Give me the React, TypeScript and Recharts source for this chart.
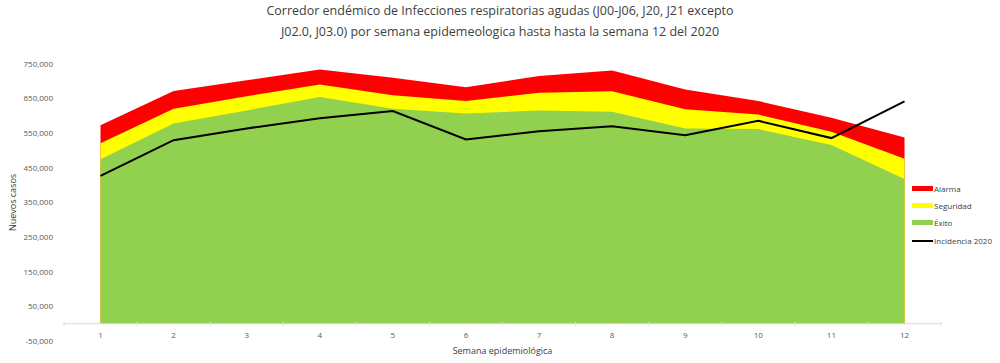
import {
  AreaChart,
  Area,
  Line,
  XAxis,
  YAxis,
  ReferenceLine,
} from "recharts"

const weeks = ["1", "2", "3", "4", "5", "6", "7", "8", "9", "10", "11", "12"]
// upper limit of each zone
const alarma = [573000, 672000, 703000, 734000, 710000, 683000, 715000, 731000, 676000, 643000, 595000, 538000]
const seguridad = [521000, 621000, 657000, 691000, 660000, 643000, 667000, 671000, 619000, 604000, 554000, 476000]
const exito = [475000, 578000, 616000, 655000, 621000, 607000, 616000, 612000, 564000, 562000, 516000, 418000]
const incidencia = [427000, 530000, 564000, 593000, 614000, 532000, 556000, 570000, 544000, 586000, 536000, 642000]
const yTicks = [-50000, 50000, 150000, 250000, 350000, 450000, 550000, 650000, 750000]

const data = weeks.map((week, i) => ({
  week,
  alarma: alarma[i],
  seguridad: seguridad[i],
  exito: exito[i],
  incidencia: incidencia[i],
}))

const legendItems = [
  { label: "Alarma", color: "#ff0000", h: 5 },
  { label: "Seguridad", color: "#ffff00", h: 5 },
  { label: "Éxito", color: "#92d050", h: 5 },
  { label: "Incidencia 2020", color: "#000000", h: 2 },
]

const FONT = "'Open Sans', sans-serif"
const HALF_STEP = 36.5

function WeekTick(props: any) {
  const { x, y, payload, index, visibleTicksCount } = props
  const zeroY = y - 17.3
  return (
    <g>
      <line x1={x - HALF_STEP} x2={x - HALF_STEP} y1={zeroY - 2} y2={zeroY + 2} stroke="#d9d9d9" />
      {index === visibleTicksCount - 1 && (
        <line x1={x + HALF_STEP} x2={x + HALF_STEP} y1={zeroY - 2} y2={zeroY + 2} stroke="#d9d9d9" />
      )}
      <text x={x} y={y - 5} textAnchor="middle" dominantBaseline="middle" fontSize={8} fontFamily={FONT} fill="#595959">
        {payload.value}
      </text>
    </g>
  )
}

function ChartLegend() {
  return (
    <div style={{ position: "absolute", left: 912, top: 180, fontFamily: FONT, fontSize: 8, color: "#404040" }}>
      {legendItems.map((item, i) => (
        <div key={item.label} style={{ display: "flex", alignItems: "center", height: i === 3 ? 19 : 17 }}>
          <span style={{ width: 21, height: item.h, background: item.color, marginRight: 1 }} />
          <span>{item.label}</span>
        </div>
      ))}
    </div>
  )
}

export default function App() {
  return (
    <div style={{ position: "absolute", left: 0, top: 0, width: 1000, height: 363, background: "#fff" }}>
      <div
        style={{
          position: "absolute",
          top: 0,
          left: 0,
          width: 1000,
          textAlign: "center",
          fontFamily: FONT,
          fontSize: 12.5,
          lineHeight: "21px",
          color: "#404040",
        }}
      >
        Corredor endémico de Infecciones respiratorias agudas (J00-J06, J20, J21 excepto
        <br />
        J02.0, J03.0) por semana epidemeologica hasta hasta la semana 12 del 2020
      </div>
      <AreaChart width={1000} height={363} data={data} margin={{ top: 64, right: 59, bottom: 0, left: 0 }}>
        <XAxis
          dataKey="week"
          height={22}
          padding={{ left: HALF_STEP, right: HALF_STEP }}
          axisLine={false}
          tickLine={false}
          tickSize={0}
          tickMargin={0}
          interval={0}
          tick={<WeekTick />}
          label={{
            content: ({ viewBox }: any) => (
              <text
                x={viewBox.x + viewBox.width / 2}
                y={viewBox.y + 11}
                textAnchor="middle"
                dominantBaseline="middle"
                fontFamily={FONT}
                fontSize={9}
                fill="#404040"
              >
                Semana epidemiológica
              </text>
            ),
          }}
        />
        <YAxis
          width={64}
          domain={[-50000, 750000]}
          ticks={yTicks}
          axisLine={false}
          tickLine={false}
          tickSize={0}
          tickMargin={11}
          tickFormatter={(v: number) => v.toLocaleString("en-US")}
          tick={{ fontFamily: FONT, fontSize: 8, fill: "#595959" }}
          label={{
            content: ({ viewBox }: any) => {
              const cx = viewBox.x + 14
              const cy = viewBox.y + viewBox.height / 2
              return (
                <text
                  x={cx}
                  y={cy}
                  transform={`rotate(-90 ${cx} ${cy})`}
                  textAnchor="middle"
                  dominantBaseline="middle"
                  fontFamily={FONT}
                  fontSize={9}
                  fill="#404040"
                >
                  Nuevos casos
                </text>
              )
            },
          }}
        />
        <Area dataKey="alarma" name="Alarma" type="linear" baseValue={0} fill="#ff0000" fillOpacity={1} stroke="none" isAnimationActive={false} />
        <Area dataKey="seguridad" name="Seguridad" type="linear" baseValue={0} fill="#ffff00" fillOpacity={1} stroke="none" isAnimationActive={false} />
        <Area dataKey="exito" name="Éxito" type="linear" baseValue={0} fill="#92d050" fillOpacity={1} stroke="none" isAnimationActive={false} />
        <ReferenceLine y={0} stroke="#d9d9d9" />
        <Line dataKey="incidencia" name="Incidencia 2020" type="linear" stroke="#000000" strokeWidth={2} dot={false} isAnimationActive={false} />
      </AreaChart>
      <ChartLegend />
    </div>
  )
}
